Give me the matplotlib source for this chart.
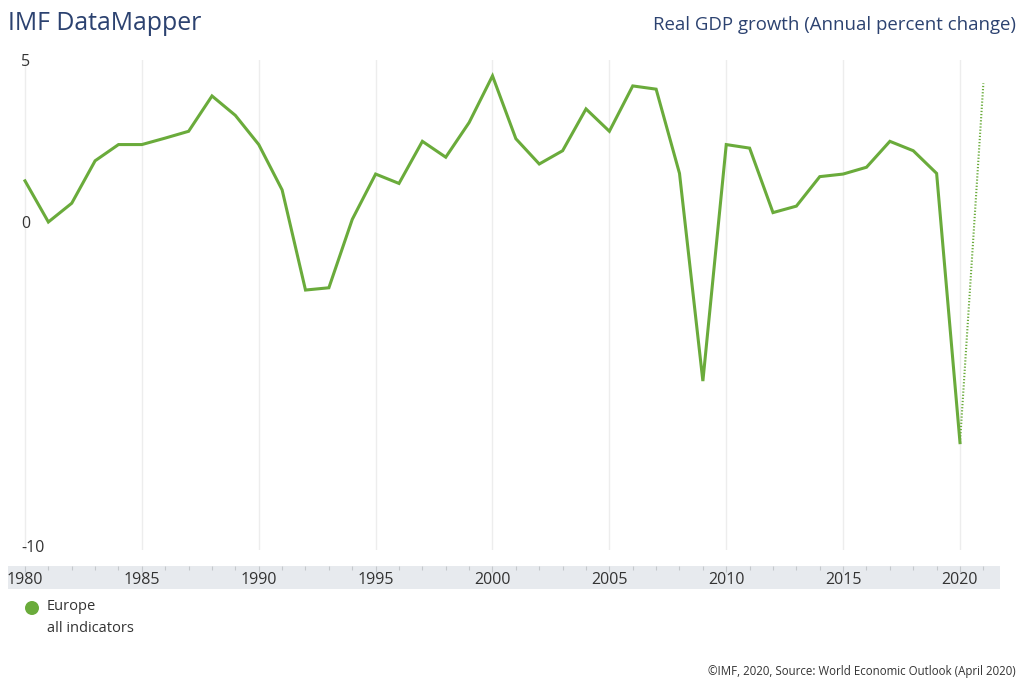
import matplotlib
matplotlib.use("Agg")
import matplotlib.pyplot as plt
from matplotlib.patches import Circle
from matplotlib.ticker import MultipleLocator

# ---- data ----
years = list(range(1980, 2021))
growth = [1.27, 0.0, 0.58, 1.89, 2.39, 2.39, 2.59, 2.80, 3.89, 3.29,
          2.39, 0.99, -2.10, -2.03, 0.08, 1.48, 1.19, 2.49, 2.00, 3.07,
          4.51, 2.57, 1.79, 2.20, 3.49, 2.80, 4.20, 4.10, 1.50, -4.91,
          2.39, 2.28, 0.29, 0.49, 1.40, 1.48, 1.69, 2.49, 2.20, 1.50,
          -6.81]
proj_years = [2020, 2021]
proj_growth = [-6.81, 4.28]
x_major = [1980, 1985, 1990, 1995, 2000, 2005, 2010, 2015, 2020]
y_ticks = [-10, 0, 5]
y_ticklabels = ["-10", "0", "5"]
title_left = "IMF DataMapper"
title_right = "Real GDP growth (Annual percent change)"
legend_name = "Europe"
legend_sub = "all indicators"
footer = "\u00a9IMF, 2020, Source: World Economic Outlook (April 2020)"

plt.rcParams['font.family'] = ['Open Sans', 'DejaVu Sans']

W, H = 1024, 687
fig = plt.figure(figsize=(W / 100, H / 100), dpi=100)

green = '#6aab3b'
navy = '#2c4270'
txt = '#333333'

def fx(px):
    return px / W

def fy(py):
    return 1 - py / H

# pixel mapping: 1980 -> 25px, 2020 -> 960px
ppy = (960 - 25) / 40.0
x_left = 1980 - (25 - 8) / ppy
x_right = 1980 + (1000 - 25) / ppy
# y: 0 -> 222px, 32.4 px per unit
ppu = 32.4
top_px, bot_px = 60, 550
y_top = (222 - top_px) / ppu
y_bot = (222 - bot_px) / ppu

ax = fig.add_axes([fx(8), fy(bot_px), fx(1000) - fx(8), fy(top_px) - fy(bot_px)])
ax.set_xlim(x_left, x_right)
ax.set_ylim(y_bot, y_top)
for s in ax.spines.values():
    s.set_visible(False)
ax.set_xticks(x_major)
ax.tick_params(axis='x', length=0, labelbottom=False)
ax.grid(axis='x', color='#ededed', linewidth=1)
ax.set_axisbelow(True)
ax.set_yticks(y_ticks)
ax.set_yticklabels(y_ticklabels)
ax.tick_params(axis='y', length=0, pad=-9.4, labelsize=11.5, labelcolor=txt)
for lab in ax.get_yticklabels():
    lab.set_horizontalalignment('left')

ax.plot(years, growth, color=green, linewidth=2.2, solid_joinstyle='miter', zorder=3)
ax.plot(proj_years, proj_growth, color=green, linewidth=1.5, linestyle=(0, (0.6, 0.9)), zorder=3)

# x-axis band
axb = fig.add_axes([fx(8), fy(589), fx(1000) - fx(8), fy(566) - fy(589)])
axb.set_facecolor('#e7eaee')
axb.set_xlim(x_left, x_right)
axb.set_ylim(0, 1)
for s in axb.spines.values():
    s.set_visible(False)
axb.set_yticks([])
axb.set_xticks(x_major)
axb.set_xticklabels([str(v) for v in x_major])
axb.xaxis.set_minor_locator(MultipleLocator(1))
axb.set_xlim(x_left, x_right)
axb.tick_params(axis='x', which='both', bottom=False, top=True, direction='in',
                labelbottom=True, labeltop=False, color='#c4c8cc', width=0.8)
axb.tick_params(axis='x', which='major', length=4, pad=-12.0, labelsize=11.5, labelcolor=txt)
axb.tick_params(axis='x', which='minor', length=3)

# titles
fig.text(fx(8), fy(24), title_left, ha='left', va='center', fontsize=17.9, color=navy)
fig.text(fx(1016), fy(25), title_right, ha='right', va='center', fontsize=13.4, color=navy)

# legend
fig.add_artist(Circle((32, H - 608), 7, transform=None, facecolor=green, edgecolor='none'))
fig.text(fx(47), fy(607), legend_name, ha='left', va='center', fontsize=10.5, color=txt)
fig.text(fx(47), fy(628), legend_sub, ha='left', va='center', fontsize=10.5, color=txt)

# footer
fig.text(fx(1016), fy(672), footer, ha='right', va='center', fontsize=8.3, color=txt)

fig.savefig('out.png', dpi=100)
